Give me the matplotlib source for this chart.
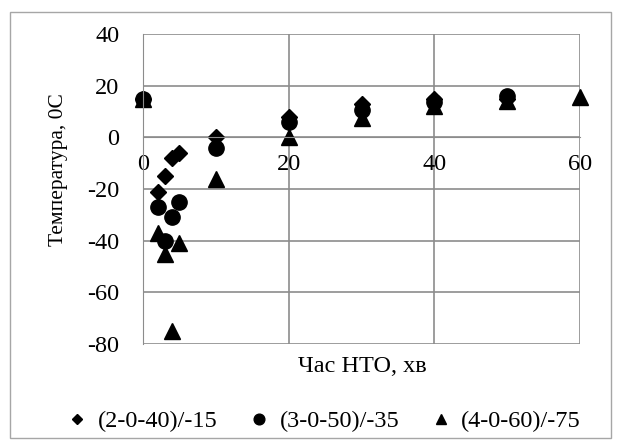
import matplotlib.pyplot as plt
from matplotlib.patches import Rectangle

plt.rcParams['font.family'] = ['Liberation Serif', 'DejaVu Serif']
plt.rcParams['axes.unicode_minus'] = False

# time, min
t1 = [0, 2, 3, 4, 5, 10, 20, 30, 40, 50]
temp1 = [15, -21, -15, -8, -6, 0, 8, 13, 15, 15]
t2 = [0, 2, 3, 4, 5, 10, 20, 30, 40, 50]
temp2 = [15, -27, -40, -31, -25, -4, 6, 10.5, 13.5, 16]
t3 = [0, 2, 3, 4, 5, 10, 20, 30, 40, 50, 60]
temp3 = [15, -37, -45, -75, -41, -16, 0, 7.5, 12, 14, 15.5]

labels = ['(2-0-40)/-15', '(3-0-50)/-35', '(4-0-60)/-75']
markers = ['D', 'o', '^']
sizes = [8, 11, 11]
fs = 17.5

fig = plt.figure(figsize=(6.21, 4.48), dpi=100)
ax = fig.add_axes([143/621, 1 - 344/448, 437/621, 310/448])

series = [(t1, temp1), (t2, temp2), (t3, temp3)]
for (x, y), lab, m, s in zip(series, labels, markers, sizes):
    ax.plot(x, y, linestyle='none', marker=m, markersize=s,
            color='black', label=lab, clip_on=False)

ax.set_xlim(0, 60)
ax.set_ylim(-80, 40)
ax.set_xticks([0, 20, 40, 60])
ax.set_yticks(range(-80, 41, 20))
ax.grid(True, color='#8c8c8c', linewidth=1.2)
ax.set_axisbelow(True)

ax.spines['bottom'].set_position(('data', 0))
ax.spines['bottom'].set_color('#8c8c8c')
ax.spines['left'].set_color('#8c8c8c')
ax.spines['top'].set_visible(False)
ax.spines['right'].set_visible(False)
ax.tick_params(length=0, labelsize=fs)
ax.tick_params(axis='y', pad=17)
ax.tick_params(axis='x', pad=12)

fig.text(59/621, 1 - 170/448, 'Температура, 0С', rotation=90,
         ha='center', va='center', fontsize=15.5)
fig.text(362/621, 1 - 366/448, 'Час НТО, хв', ha='center', va='center',
         fontsize=fs)

handles, labs = ax.get_legend_handles_labels()
fig.legend(handles, labs, loc='center', bbox_to_anchor=(323/621, 1 - 421/448),
           ncol=3, frameon=False, fontsize=fs, handletextpad=0.35,
           columnspacing=1.2, handlelength=1.0, markerscale=0.7)

fig.patches.append(Rectangle((10/621, 1 - 438/448), 601/621, 426/448,
                             transform=fig.transFigure, fill=False,
                             edgecolor='#a6a6a6', linewidth=1))

fig.savefig('out.png', dpi=100)
